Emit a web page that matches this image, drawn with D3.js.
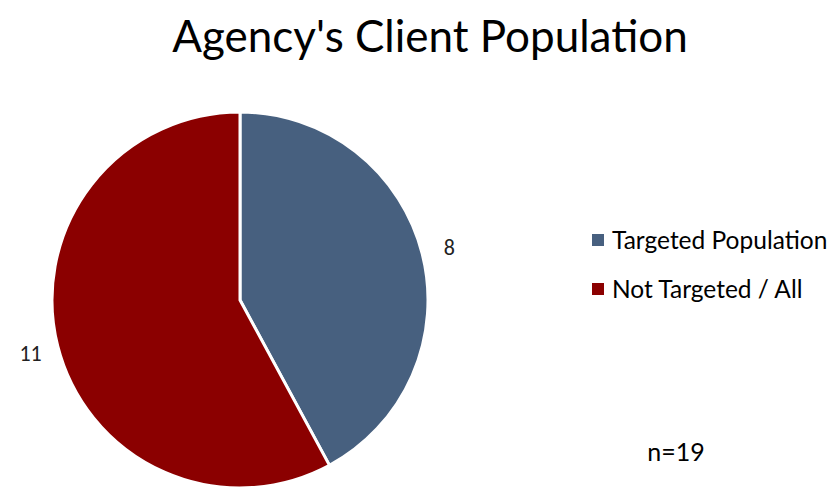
<!DOCTYPE html>
<html>
<head>
<meta charset="utf-8">
<script src="https://cdn.jsdelivr.net/npm/d3@7"></script>
<style>
body { margin: 0; background: #fff; }
</style>
</head>
<body>
<script>
// chart data
var categories = ["Targeted Population", "Not Targeted / All"];
var counts = [8, 11];
var colors = ["#47607f", "#8b0000"];
var note = "n=19";

var width = 833, height = 487;
var cx = 240, cy = 300, radius = 188;

var svg = d3.select("body").append("svg")
    .attr("width", width)
    .attr("height", height);

// title
svg.append("text")
    .attr("x", 430)
    .attr("y", 52)
    .attr("text-anchor", "middle")
    .style("font-family", "Lato, 'Open Sans', sans-serif")
    .style("font-size", "44px")
    .style("fill", "#000")
    .text("Agency's Client Population");

var pie = d3.pie().sort(null).value(function(d) { return d; });
var arcs = pie(counts);
var arc = d3.arc().innerRadius(0).outerRadius(radius);
var labelArc = d3.arc().innerRadius(216).outerRadius(216);

var g = svg.append("g").attr("transform", "translate(" + cx + "," + cy + ")");

g.selectAll("path")
    .data(arcs)
    .enter()
    .append("path")
    .attr("d", arc)
    .attr("fill", function(d, i) { return colors[i]; })
    .attr("stroke", "#fff")
    .attr("stroke-width", 3);

// data labels
g.selectAll(".lbl")
    .data(arcs)
    .enter()
    .append("text")
    .attr("class", "lbl")
    .attr("transform", function(d) { return "translate(" + labelArc.centroid(d) + ")"; })
    .attr("text-anchor", "middle")
    .attr("dy", "0.35em")
    .style("font-family", "Carlito, 'Liberation Sans', sans-serif")
    .style("font-size", "22px")
    .style("fill", "#222")
    .text(function(d) { return d.data; });

// legend
var legend = svg.append("g").attr("transform", "translate(592,240)");
var item = legend.selectAll("g")
    .data(categories)
    .enter()
    .append("g")
    .attr("transform", function(d, i) { return "translate(0," + (i * 49) + ")"; });

item.append("rect")
    .attr("x", 0)
    .attr("y", -6)
    .attr("width", 12)
    .attr("height", 12)
    .attr("fill", function(d, i) { return colors[i]; });

item.append("text")
    .attr("x", 20)
    .attr("dy", "0.35em")
    .style("font-family", "Lato, 'Open Sans', sans-serif")
    .style("font-size", "24.5px")
    .style("fill", "#000")
    .text(function(d) { return d; });

svg.append("text")
    .attr("x", 676)
    .attr("y", 452)
    .attr("text-anchor", "middle")
    .attr("dy", "0.35em")
    .style("font-family", "Lato, 'Open Sans', sans-serif")
    .style("font-size", "25px")
    .style("fill", "#000")
    .text(note);
</script>
</body>
</html>
